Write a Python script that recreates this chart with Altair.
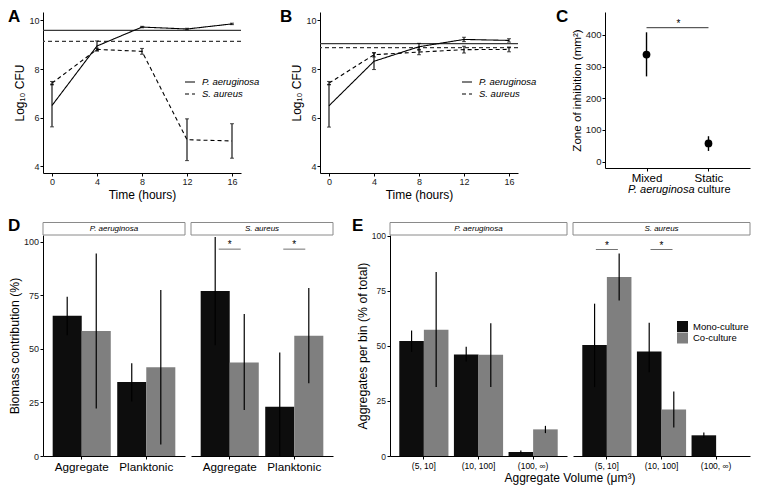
import altair as alt
import pandas as pd

FONT = "Liberation Sans"
BAR_BLACK = "#0d0d0d"
BAR_GREY = "#7f7f7f"

# ---------------- data ----------------
time_hours = [0, 4, 8, 12, 16]
species = ["P. aeruginosa", "S. aureus"]
log_ticks = [4, 6, 8, 10]

# Panel A (mixed culture)
a_pa_mean = [6.50, 8.95, 9.73, 9.65, 9.86]
a_pa_err = [0.88, 0.21, 0.03, 0.03, 0.03]
a_sa_mean = [7.42, 8.81, 8.73, 5.09, 5.04]
a_sa_err = [0.07, 0.05, 0.12, 0.86, 0.71]
a_reference = [9.59, 9.14]

# Panel B (static culture)
b_pa_mean = [6.49, 8.32, 8.92, 9.22, 9.18]
b_pa_err = [0.88, 0.34, 0.14, 0.09, 0.07]
b_sa_mean = [7.42, 8.59, 8.70, 8.80, 8.81]
b_sa_err = [0.07, 0.09, 0.11, 0.14, 0.10]
b_reference = [9.05, 8.88]

# Panel C
c_culture = ["Mixed", "Static"]
c_mean = [338, 57.5]
c_low = [269, 34]
c_high = [408, 80.4]
c_sig_y = 422.5
c_ticks = [0, 100, 200, 300, 400]

# Panel D
cultures = ["Mono-culture", "Co-culture"]
d_fraction = ["Aggregate", "Planktonic"]
d_pa_mono = [65.5, 34.5]
d_pa_mono_low = [56.4, 25.5]
d_pa_mono_high = [74.4, 43.3]
d_pa_co = [58.4, 41.4]
d_pa_co_low = [22.2, 5.4]
d_pa_co_high = [94.6, 77.5]
d_sa_mono = [77.0, 23.0]
d_sa_mono_low = [51.7, 0.0]
d_sa_mono_high = [102.3, 48.3]
d_sa_co = [43.7, 56.1]
d_sa_co_low = [21.5, 34.0]
d_sa_co_high = [66.3, 78.4]
d_sig_fraction = ["Aggregate", "Planktonic"]
d_sig_y = 96.6
pct_ticks = [0, 25, 50, 75, 100]

# Panel E
e_bins = ["(5, 10]", "(10, 100]", "(100, ∞)"]
e_pa_mono = [52.2, 46.1, 1.8]
e_pa_mono_low = [47.3, 42.9, 1.0]
e_pa_mono_high = [57.0, 49.6, 2.5]
e_pa_co = [57.3, 46.0, 12.1]
e_pa_co_low = [31.3, 31.3, 10.4]
e_pa_co_high = [83.6, 60.3, 13.7]
e_sa_mono = [50.4, 47.5, 9.4]
e_sa_mono_low = [31.3, 38.0, 8.2]
e_sa_mono_high = [69.2, 60.5, 10.7]
e_sa_co = [81.3, 21.1]          # no co-culture aggregates > 100 um3
e_sa_co_low = [70.7, 12.9]
e_sa_co_high = [92.0, 29.3]
e_sig_bins = ["(5, 10]", "(10, 100]"]
e_sig_y = 93.8


# ---------------- helpers ----------------
def axis(**kw):
    base = dict(domainColor="black", domainWidth=1, tickColor="black", tickWidth=1,
                tickSize=3, labelColor="#1a1a1a", labelFont=FONT, titleFont=FONT,
                titleColor="black", titleFontWeight="normal", grid=False,
                labelFlush=False, labelPadding=2)
    base.update(kw)
    return alt.Axis(**base)


def letter_layer(letter, lx, ly):
    return alt.Chart(pd.DataFrame({"letter": [letter]})).mark_text(
        font=FONT, fontSize=17, fontWeight="bold", align="left", baseline="top", color="black"
    ).encode(text="letter:N", x=alt.value(lx), y=alt.value(ly))


def spacer(w, h=1):
    return alt.Chart(pd.DataFrame({"s": [0]})).mark_point(opacity=0).properties(width=w, height=h)


def time_panel(letter, letter_dx, pa_mean, pa_err, sa_mean, sa_err, refs, W, H):
    rows = []
    for sp, means, errs in ((species[0], pa_mean, pa_err), (species[1], sa_mean, sa_err)):
        for t, m, e in zip(time_hours, means, errs):
            rows.append({"time": t, "species": sp, "mean": m, "lo": m - e, "hi": m + e})
    df = pd.DataFrame(rows)
    xs = alt.Scale(domain=[-0.8, 16.8], nice=False, zero=False)
    ys = alt.Scale(domain=[3.72, 10.35], nice=False, zero=False)
    xax = axis(values=time_hours, title="Time (hours)", labelFontSize=9, titleFontSize=12,
               titlePadding=3, labelPadding=1)
    yax = axis(values=log_ticks, title="Log₁₀ CFU", labelFontSize=9, titleFontSize=12,
               titlePadding=2, labelPadding=1)

    def X(f):
        return alt.X(f, scale=xs, axis=xax)

    def Y(f):
        return alt.Y(f, scale=ys, axis=yax)

    ref_df = pd.DataFrame({"species": species, "ref": refs})
    ref_pa = alt.Chart(ref_df.iloc[[0]]).mark_rule(color="#3a3a3a", strokeWidth=1.2).encode(y=Y("ref:Q"))
    ref_sa = alt.Chart(ref_df.iloc[[1]]).mark_rule(
        color="#3a3a3a", strokeWidth=1.2, strokeDash=[4, 3]).encode(y=Y("ref:Q"))
    base = alt.Chart(df)
    err = base.mark_rule(color="black", strokeWidth=1.1).encode(x=X("time:Q"), y=Y("lo:Q"), y2="hi:Q")
    cap_lo = base.mark_tick(orient="horizontal", size=4, thickness=1, color="black").encode(
        x=X("time:Q"), y=Y("lo:Q"))
    cap_hi = base.mark_tick(orient="horizontal", size=4, thickness=1, color="black").encode(
        x=X("time:Q"), y=Y("hi:Q"))
    lines = base.mark_line(color="black", strokeWidth=1.1).encode(
        x=X("time:Q"), y=Y("mean:Q"),
        strokeDash=alt.StrokeDash(
            "species:N", scale=alt.Scale(domain=species, range=[[1, 0], [4, 3]]),
            legend=alt.Legend(orient="none", legendX=141, legendY=64, title=None,
                              labelFontStyle="italic", labelFontSize=9.5, labelFont=FONT,
                              labelColor="black", symbolType="stroke", symbolSize=100,
                              symbolStrokeWidth=1.2, symbolStrokeColor="black",
                              labelOffset=6, rowPadding=1, padding=0)))
    return alt.layer(ref_pa, ref_sa, err, cap_lo, cap_hi, lines,
                     letter_layer(letter, letter_dx, -3)).properties(width=W, height=H)


def c_panel(W, H):
    df = pd.DataFrame({"culture": c_culture, "mean": c_mean, "lo": c_low, "hi": c_high})
    xs = alt.Scale(domain=c_culture, type="point", padding=0.67)
    ys = alt.Scale(domain=[-19.8, 472], nice=False, zero=False)
    xax = axis(title=None, labelFontSize=11.5, labelAngle=0, labelPadding=1, labelColor="black")
    yax = axis(values=c_ticks, title="Zone of inhibition (mm²)", labelFontSize=9.5,
               titleFontSize=11.6, titlePadding=3, labelPadding=1)

    def X(f):
        return alt.X(f, scale=xs, axis=xax)

    def Y(f):
        return alt.Y(f, scale=ys, axis=yax)

    base = alt.Chart(df)
    err = base.mark_rule(color="black", strokeWidth=1.4).encode(x=X("culture:N"), y=Y("lo:Q"), y2="hi:Q")
    pts = base.mark_circle(size=60, color="black", opacity=1).encode(x=X("culture:N"), y=Y("mean:Q"))
    sig_df = pd.DataFrame({"from": [c_culture[0]], "to": [c_culture[1]], "y": [c_sig_y], "star": ["*"]})
    sig = alt.Chart(sig_df).mark_rule(color="#333333", strokeWidth=1).encode(
        x=X("from:N"), x2="to", y=Y("y:Q"))
    star = alt.Chart(sig_df).mark_text(font=FONT, fontSize=10, baseline="middle", dx=32, dy=-4,
                                       color="black").encode(x=X("from:N"), y=Y("y:Q"), text="star:N")
    t1 = alt.Chart(pd.DataFrame({"t": ["P. aeruginosa"]})).mark_text(
        font=FONT, fontSize=11, fontStyle="italic", align="right", baseline="alphabetic", color="black"
    ).encode(text="t:N", x=alt.value(W / 2 + 17), y=alt.value(H + 25))
    t2 = alt.Chart(pd.DataFrame({"t": ["culture"]})).mark_text(
        font=FONT, fontSize=11, align="left", baseline="alphabetic", color="black"
    ).encode(text="t:N", x=alt.value(W / 2 + 20), y=alt.value(H + 25))
    return alt.layer(err, pts, sig, star, t1, t2, letter_layer("C", -49, -3)).properties(width=W, height=H)


def bar_panel(cats, pad_inner, pad_outer, ydom, yticks, mono, mono_lo, mono_hi,
              co, co_lo, co_hi, sig_cats, sig_y, strip, W, H, show_y, y_title,
              xlab_size, ylab_size, letter=None, letter_dx=-35, legend=None, x_title=None):
    rows = []
    for i, c in enumerate(cats):
        rows.append(dict(cat=c, culture=cultures[0], mean=mono[i], lo=mono_lo[i], hi=mono_hi[i]))
    for i in range(len(co)):
        rows.append(dict(cat=cats[i], culture=cultures[1], mean=co[i], lo=co_lo[i], hi=co_hi[i]))
    df = pd.DataFrame(rows)
    xs = alt.Scale(domain=cats, paddingInner=pad_inner, paddingOuter=pad_outer)
    offs = alt.Scale(domain=cultures, paddingInner=0, paddingOuter=0)
    ys = alt.Scale(domain=ydom, nice=False, zero=False)
    xax = axis(title=None, labelFontSize=xlab_size, labelAngle=0, labelColor="black", labelPadding=2.5)
    if show_y:
        yax = axis(values=yticks, title=y_title, labelFontSize=ylab_size, titleFontSize=12.3,
                   titlePadding=2, labelPadding=1.5)
    else:
        yax = None

    def X(f):
        return alt.X(f, scale=xs, axis=xax)

    def Y(f):
        return alt.Y(f, scale=ys, axis=yax)

    base = alt.Chart(df)
    bars = base.mark_bar().encode(
        x=X("cat:N"), xOffset=alt.XOffset("culture:N", scale=offs), y=Y("mean:Q"),
        color=alt.Color("culture:N", scale=alt.Scale(domain=cultures, range=[BAR_BLACK, BAR_GREY]),
                        legend=legend))
    err = base.mark_rule(color="black", strokeWidth=1.2).encode(
        x=X("cat:N"), xOffset=alt.XOffset("culture:N", scale=offs), y=Y("lo:Q"), y2="hi:Q")
    layers = [bars, err]
    if sig_cats:
        sig_df = pd.DataFrame({"cat": sig_cats, "y": [sig_y] * len(sig_cats), "star": ["*"] * len(sig_cats)})
        layers.append(alt.Chart(sig_df).mark_tick(orient="horizontal", size=22, thickness=1,
                                                  color="#333333").encode(x=X("cat:N"), y=Y("y:Q")))
        layers.append(alt.Chart(sig_df).mark_text(font=FONT, fontSize=10, baseline="middle", dy=-4,
                                                  color="black").encode(x=X("cat:N"), y=Y("y:Q"),
                                                                        text="star:N"))
    strip_df = pd.DataFrame({"label": [strip]})
    layers.append(alt.Chart(strip_df).mark_rect(fill="white", stroke="#8a8a8a", strokeWidth=1).encode(
        x=alt.value(0), x2=alt.value(W), y=alt.value(-12.5), y2=alt.value(0)))
    layers.append(alt.Chart(strip_df).mark_text(font=FONT, fontSize=8, fontStyle="italic",
                                                baseline="middle", color="black").encode(
        text="label:N", x=alt.value(W / 2), y=alt.value(-6)))
    if x_title:
        layers.append(alt.Chart(pd.DataFrame({"t": [x_title]})).mark_text(
            font=FONT, fontSize=12, baseline="top", align="center", color="black").encode(
            text="t:N", x=alt.value(W + 3), y=alt.value(H + 17)))
    if letter:
        layers.append(letter_layer(letter, letter_dx, -17))
    return alt.layer(*layers).properties(width=W, height=H)


# ---------------- panels ----------------
panel_a = time_panel("A", -35, a_pa_mean, a_pa_err, a_sa_mean, a_sa_err, a_reference, 198, 161)
panel_b = time_panel("B", -40, b_pa_mean, b_pa_err, b_sa_mean, b_sa_err, b_reference, 198, 161)
panel_c = c_panel(145, 156)

D_W, E_W, H2 = 142, 177, 221
panel_d1 = bar_panel(d_fraction, 0.1, 0.15, [0, 103.2], pct_ticks, d_pa_mono, d_pa_mono_low,
                     d_pa_mono_high, d_pa_co, d_pa_co_low, d_pa_co_high, [], None,
                     species[0], D_W, H2, True, "Biomass contribution (%)", 11.7, 9, letter="D")
panel_d2 = bar_panel(d_fraction, 0.1, 0.15, [0, 103.2], pct_ticks, d_sa_mono, d_sa_mono_low,
                     d_sa_mono_high, d_sa_co, d_sa_co_low, d_sa_co_high, d_sig_fraction, d_sig_y,
                     species[1], D_W, H2, False, None, 11.7, 9)
panel_e1 = bar_panel(e_bins, 0.1, 0.17, [0, 100.4], pct_ticks, e_pa_mono, e_pa_mono_low,
                     e_pa_mono_high, e_pa_co, e_pa_co_low, e_pa_co_high, [], None,
                     species[0], E_W, H2, True, "Aggregates per bin (% of total)", 8.5, 8.5,
                     letter="E", letter_dx=-38, x_title="Aggregate Volume (μm³)")
e_legend = alt.Legend(orient="none", legendX=104, legendY=86, title=None, symbolType="square",
                      symbolSize=121, symbolStrokeWidth=0, labelFontSize=9.5, labelFont=FONT,
                      labelColor="black", labelOffset=5, rowPadding=0.5, padding=0)
panel_e2 = bar_panel(e_bins, 0.1, 0.17, [0, 100.4], pct_ticks, e_sa_mono, e_sa_mono_low,
                     e_sa_mono_high, e_sa_co, e_sa_co_low, e_sa_co_high, e_sig_bins, e_sig_y,
                     species[1], E_W, H2, False, None, 8.5, 8.5, legend=e_legend)

indep = dict(color="independent", strokeDash="independent", xOffset="independent")
indep_leg = dict(color="independent", strokeDash="independent")

row1 = alt.hconcat(panel_a, spacer(77), panel_b, spacer(85), panel_c, spacing=1, bounds="flush") \
    .resolve_scale(**indep).resolve_legend(**indep_leg)
row2 = alt.hconcat(panel_d1, panel_d2, spacer(45), panel_e1, panel_e2, spacing=6, bounds="flush") \
    .resolve_scale(**indep).resolve_legend(**indep_leg)

chart = alt.vconcat(row1, row2, spacing=17).resolve_scale(**indep).resolve_legend(**indep_leg) \
    .properties(padding={"left": 0, "top": 0, "right": 0, "bottom": 3}) \
    .configure(font=FONT).configure_view(stroke=None) \
    .configure_axis(titleFontWeight="normal")

chart.save("out.html", embed_options={"renderer": "svg", "actions": False})
